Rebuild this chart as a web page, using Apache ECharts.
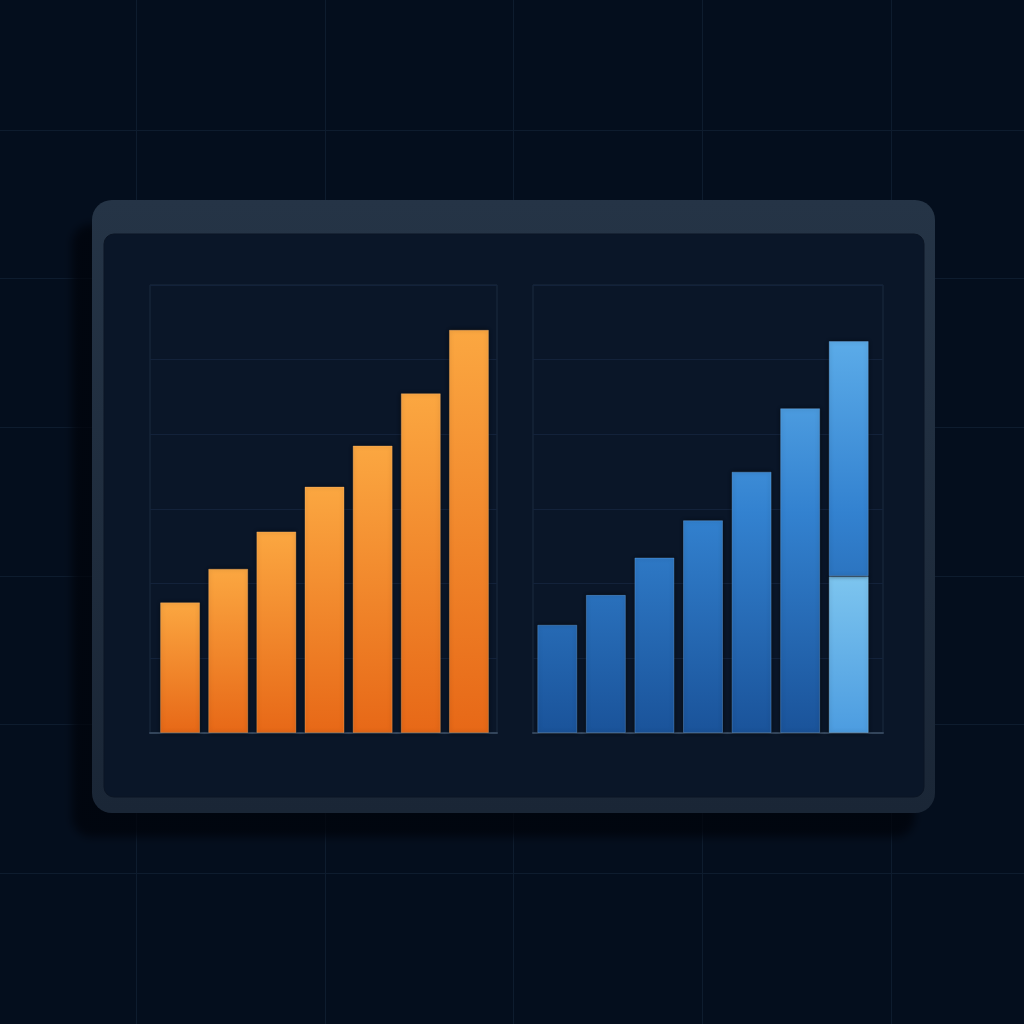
<!DOCTYPE html>
<html>
<head>
<meta charset="utf-8">
<script src="https://cdn.jsdelivr.net/npm/echarts@6/dist/echarts.min.js"></script>
<style>html,body{margin:0;padding:0;background:#040e1d;}#c{width:1024px;height:1024px;}</style>
</head>
<body>
<div id="c"></div>
<script>
// Data
var categories = ['1', '2', '3', '4', '5', '6', '7'];
var orangeValues = [35, 44, 54, 66, 77, 91, 108];
var blueValues = [29, 37, 47, 57, 70, 87, 63];
var blueHighlight = [null, null, null, null, null, null, 42];
var valueMax = 120;
var valueStep = 20;

var chart = echarts.init(document.getElementById('c'), null, {renderer: 'canvas'});

var bgLine = {show: true, lineStyle: {color: '#0e1c2e', width: 1}};
var frameSplit = {show: true, lineStyle: {color: '#13223a', width: 1}};

var orangeGrad = {type: 'linear', x: 0, y: 0, x2: 0, y2: 1, colorStops: [
  {offset: 0, color: '#fba741'}, {offset: 1, color: '#e76817'}]};
var blueGrad = {type: 'linear', x: 0, y: 330, x2: 0, y2: 733, global: true, colorStops: [
  {offset: 0, color: '#5eaeea'}, {offset: 0.45, color: '#3382d0'}, {offset: 1, color: '#1a539a'}]};
var lightGrad = {type: 'linear', x: 0, y: 0, x2: 0, y2: 1, colorStops: [
  {offset: 0, color: '#7dc5ef'}, {offset: 1, color: '#4c9ce0'}]};

var option = {
  backgroundColor: '#040e1d',
  animation: false,
  graphic: {
    elements: [
      {type: 'rect', z: 1, shape: {x: 92, y: 200, width: 843, height: 613, r: 20},
       style: {fill: {type: 'linear', x: 0, y: 0, x2: 0, y2: 1, colorStops: [
         {offset: 0, color: '#253446'}, {offset: 1, color: '#1a2636'}]},
         shadowBlur: 8, shadowOffsetX: -20, shadowOffsetY: 24, shadowColor: 'rgba(0,3,10,0.75)'}},
      {type: 'rect', z: 2, shape: {x: 104, y: 234, width: 820, height: 563, r: 10},
       style: {fill: '#0a1628', stroke: '#0b1524', lineWidth: 1}}
    ]
  },
  grid: [
    {left: 136, right: 133, top: 0, bottom: 0},
    {left: 0, right: 0, top: 130, bottom: 151},
    {left: 150, width: 347, top: 285, bottom: 291, show: true, borderColor: '#1b2a3e', borderWidth: 1, z: 3},
    {left: 533, width: 350, top: 285, bottom: 291, show: true, borderColor: '#1b2a3e', borderWidth: 1, z: 3},
    {left: 156, width: 337, top: 285, bottom: 291, z: 4},
    {left: 533, width: 340, top: 285, bottom: 291, z: 4}
  ],
  xAxis: [
    {gridIndex: 0, type: 'value', min: 0, max: 4, interval: 1, z: 0, axisLine: {show: false}, axisTick: {show: false}, axisLabel: {show: false}, splitLine: bgLine},
    {gridIndex: 1, type: 'value', min: 0, max: 1, show: false},
    {gridIndex: 2, type: 'value', min: 0, max: 1, z: 3, axisLine: {show: true, lineStyle: {color: '#33455b', width: 2}}, axisTick: {show: false}, axisLabel: {show: false}, splitLine: {show: false}},
    {gridIndex: 3, type: 'value', min: 0, max: 1, z: 3, axisLine: {show: true, lineStyle: {color: '#33455b', width: 2}}, axisTick: {show: false}, axisLabel: {show: false}, splitLine: {show: false}},
    {gridIndex: 4, type: 'category', data: categories, show: false},
    {gridIndex: 5, type: 'category', data: categories, show: false}
  ],
  yAxis: [
    {gridIndex: 0, type: 'value', min: 0, max: 1, show: false},
    {gridIndex: 1, type: 'value', min: 0, max: 5, interval: 1, z: 0, axisLine: {show: false}, axisTick: {show: false}, axisLabel: {show: false}, splitLine: bgLine},
    {gridIndex: 2, type: 'value', min: 0, max: valueMax, interval: valueStep, z: 3, axisLine: {show: false}, axisTick: {show: false}, axisLabel: {show: false}, splitLine: frameSplit},
    {gridIndex: 3, type: 'value', min: 0, max: valueMax, interval: valueStep, z: 3, axisLine: {show: false}, axisTick: {show: false}, axisLabel: {show: false}, splitLine: frameSplit},
    {gridIndex: 4, type: 'value', min: 0, max: valueMax, show: false},
    {gridIndex: 5, type: 'value', min: 0, max: valueMax, show: false}
  ],
  series: [
    {type: 'bar', xAxisIndex: 4, yAxisIndex: 4, data: orangeValues, barWidth: 40, z: 5,
     itemStyle: {color: orangeGrad, borderColor: 'rgba(255,190,120,0.35)', borderWidth: 1, shadowBlur: 4, shadowColor: 'rgba(0,0,0,0.6)'}},
    {type: 'bar', xAxisIndex: 5, yAxisIndex: 5, data: blueHighlight, stack: 'b', barWidth: 40, z: 5,
     itemStyle: {color: lightGrad, borderColor: 'rgba(160,215,255,0.35)', borderWidth: 1, shadowBlur: 4, shadowColor: 'rgba(0,0,0,0.6)'}},
    {type: 'bar', xAxisIndex: 5, yAxisIndex: 5, data: blueValues, stack: 'b', barWidth: 40, z: 5,
     itemStyle: {color: blueGrad, borderColor: 'rgba(120,180,240,0.35)', borderWidth: 1, shadowBlur: 4, shadowColor: 'rgba(0,0,0,0.6)'}}
  ]
};
chart.setOption(option);
</script>
</body>
</html>
